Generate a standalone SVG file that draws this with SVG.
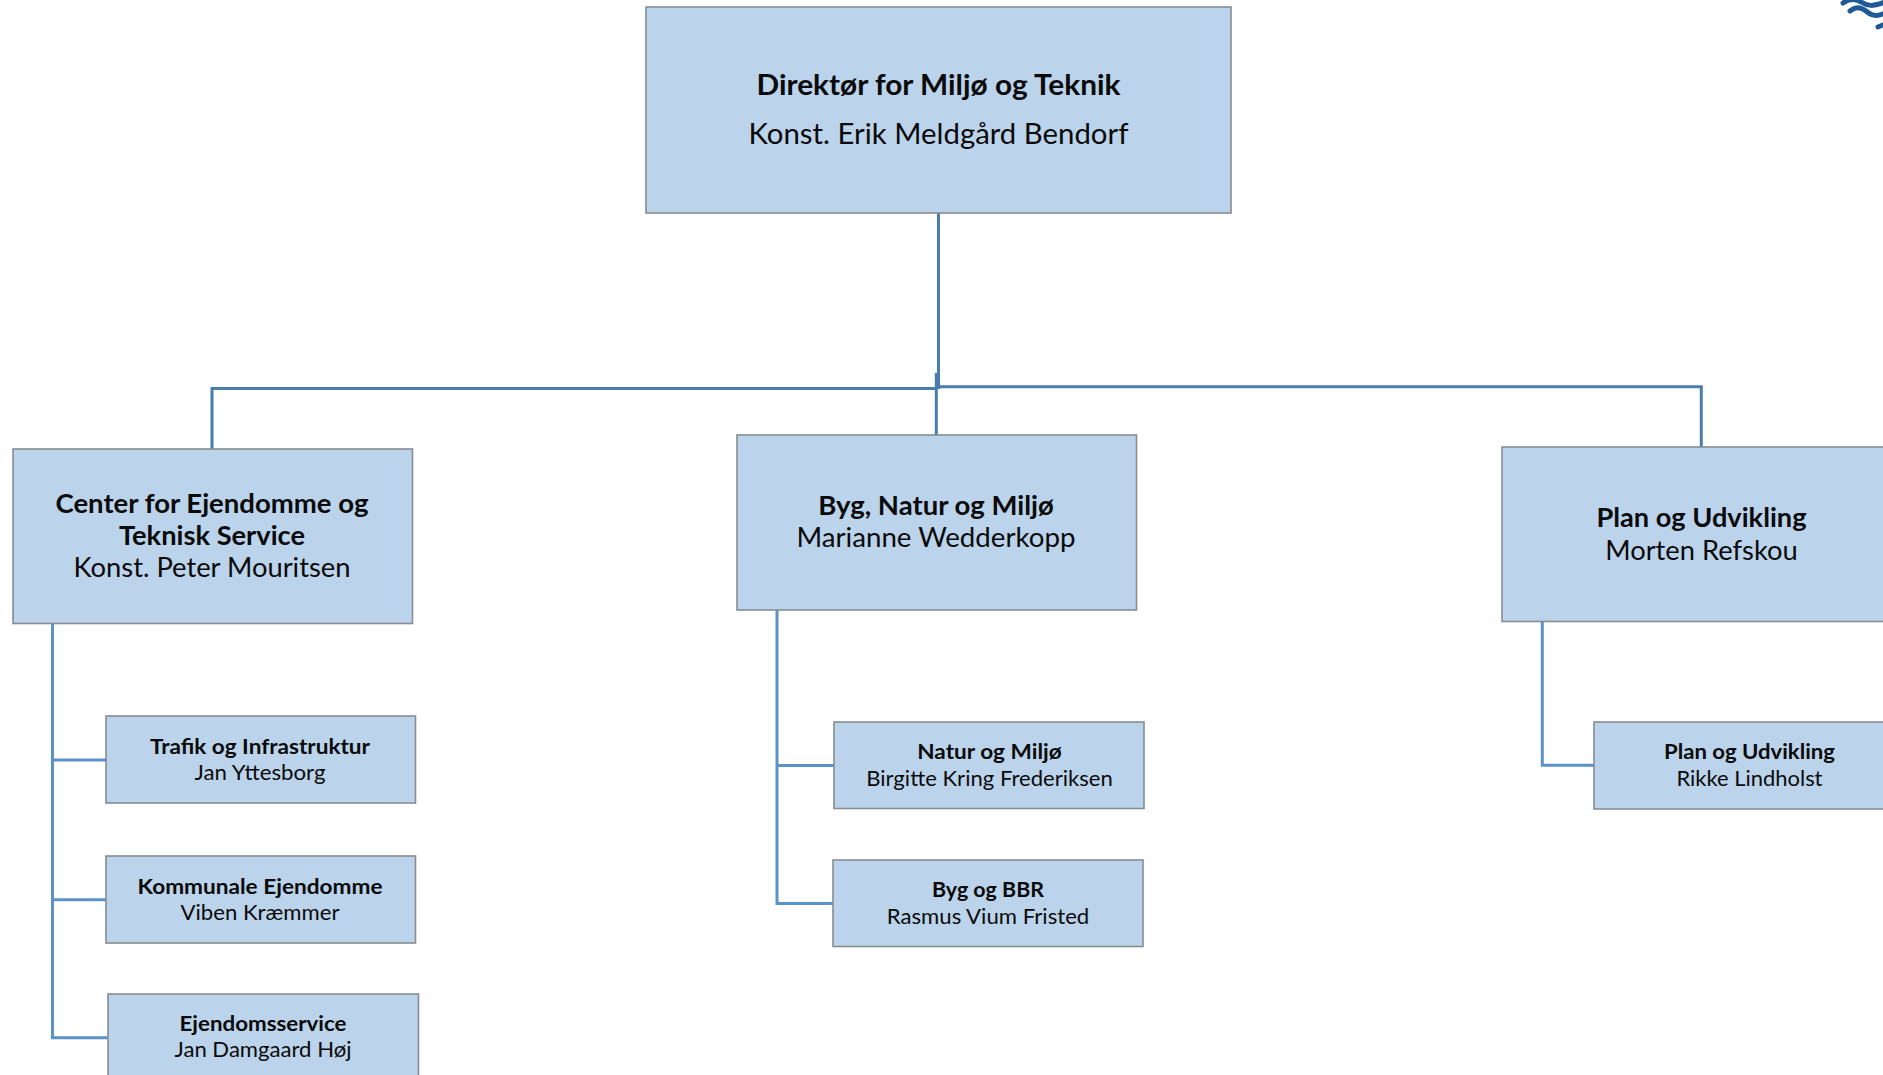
<svg xmlns="http://www.w3.org/2000/svg" width="1883" height="1075" viewBox="0 0 1883 1075">
<style>
.box{fill:#bbd4eb;stroke:#868c92;stroke-width:1.6}
.t{font-family:Lato,"Liberation Sans",sans-serif;fill:#0a0a0a;text-anchor:middle}
.b{font-weight:700}
.l1{font-size:28px}.l2{font-size:26px}.l3{font-size:21px}
.c1{fill:none;stroke:#4a7dae;stroke-width:3}
.c2{fill:none;stroke:#5b92c7;stroke-width:3}
.logo{fill:none;stroke:#1f5a96;stroke-width:5;stroke-linecap:round}
</style>
<rect width="1883" height="1075" fill="#ffffff"/>
<g id="connectors">
<path class="c1" d="M938.5 213V389"/>
<path class="c1" d="M212 449V388.500H937"/>
<path class="c1" d="M936.300 373V435"/>
<path class="c1" d="M938 386.700H1701.300V447"/>
<path class="c2" d="M52.500 623V1037.700H108"/>
<path class="c2" d="M52.500 760H106"/>
<path class="c2" d="M52.500 899.700H106"/>
<path class="c2" d="M777 610V903.500H833"/>
<path class="c2" d="M777 765.500H834"/>
<path class="c2" d="M1542.300 621V765.300H1594"/>
</g>
<g id="logo">
<path class="logo" d="M1843 3C1850 -2 1856 -1 1861 2C1867 6 1873 7 1885 2"/>
<path class="logo" d="M1850 11C1856 6 1861 7 1866 11C1872 16 1877 17 1885 13"/>
<path class="logo" d="M1878 27L1885 24"/>
</g>
<g id="director">
<rect class="box" x="646" y="7" width="585" height="206"/>
<text class="t b l1" x="938.500" y="94.500" textLength="364" lengthAdjust="spacingAndGlyphs">Direktør for Miljø og Teknik</text>
<text class="t l1" x="938.500" y="143.500" textLength="380" lengthAdjust="spacingAndGlyphs">Konst. Erik Meldgård Bendorf</text>
</g>
<g id="center-ejendomme">
<rect class="box" x="13" y="449" width="399.500" height="174.500"/>
<text class="t b l2" x="212" y="513" textLength="313" lengthAdjust="spacingAndGlyphs">Center for Ejendomme og</text>
<text class="t b l2" x="212" y="544.800" textLength="186" lengthAdjust="spacingAndGlyphs">Teknisk Service</text>
<text class="t l2" x="212" y="577.200" textLength="277" lengthAdjust="spacingAndGlyphs">Konst. Peter Mouritsen</text>
</g>
<g id="byg-natur-miljo">
<rect class="box" x="737" y="435" width="399.500" height="175"/>
<text class="t b l2" x="936" y="515.300" textLength="235.500" lengthAdjust="spacingAndGlyphs">Byg, Natur og Miljø</text>
<text class="t l2" x="936" y="547" textLength="279" lengthAdjust="spacingAndGlyphs">Marianne Wedderkopp</text>
</g>
<g id="plan-udvikling">
<rect class="box" x="1502" y="447" width="420" height="174.500"/>
<text class="t b l2" x="1701.500" y="527" textLength="210" lengthAdjust="spacingAndGlyphs">Plan og Udvikling</text>
<text class="t l2" x="1701.500" y="559.500" textLength="192.500" lengthAdjust="spacingAndGlyphs">Morten Refskou</text>
</g>
<g id="trafik">
<rect class="box" x="106" y="716" width="309.500" height="87"/>
<text class="t b l3" x="260" y="753.500" textLength="220" lengthAdjust="spacingAndGlyphs">Trafik og Infrastruktur</text>
<text class="t l3" x="260" y="779.500" textLength="131" lengthAdjust="spacingAndGlyphs">Jan Yttesborg</text>
</g>
<g id="kommunale">
<rect class="box" x="106" y="856" width="309.500" height="87"/>
<text class="t b l3" x="260" y="893.500" textLength="245" lengthAdjust="spacingAndGlyphs">Kommunale Ejendomme</text>
<text class="t l3" x="260" y="919.800" textLength="159" lengthAdjust="spacingAndGlyphs">Viben Kræmmer</text>
</g>
<g id="ejendomsservice">
<rect class="box" x="108" y="994" width="310.500" height="100"/>
<text class="t b l3" x="263" y="1030.500" textLength="167" lengthAdjust="spacingAndGlyphs">Ejendomsservice</text>
<text class="t l3" x="263" y="1057" textLength="177" lengthAdjust="spacingAndGlyphs">Jan Damgaard Høj</text>
</g>
<g id="natur-miljo">
<rect class="box" x="834" y="722" width="310" height="86.500"/>
<text class="t b l3" x="989.500" y="758.500" textLength="144.500" lengthAdjust="spacingAndGlyphs">Natur og Miljø</text>
<text class="t l3" x="989.500" y="785.800" textLength="246.500" lengthAdjust="spacingAndGlyphs">Birgitte Kring Frederiksen</text>
</g>
<g id="byg-bbr">
<rect class="box" x="833" y="860" width="310" height="86.500"/>
<text class="t b l3" x="988" y="896.500" textLength="112" lengthAdjust="spacingAndGlyphs">Byg og BBR</text>
<text class="t l3" x="988" y="923.800" textLength="202.500" lengthAdjust="spacingAndGlyphs">Rasmus Vium Fristed</text>
</g>
<g id="plan-udvikling-sub">
<rect class="box" x="1594" y="722" width="320" height="87"/>
<text class="t b l3" x="1749.500" y="758.500" textLength="171" lengthAdjust="spacingAndGlyphs">Plan og Udvikling</text>
<text class="t l3" x="1749.500" y="785.500" textLength="146" lengthAdjust="spacingAndGlyphs">Rikke Lindholst</text>
</g>
</svg>
